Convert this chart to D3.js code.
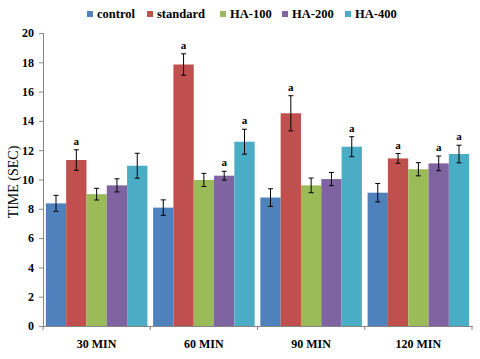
<!DOCTYPE html>
<html><head><meta charset="utf-8">
<script src="https://cdn.jsdelivr.net/npm/d3@7"></script>
<style>body{margin:0;background:#fff}svg{display:block}</style>
</head><body><svg id="c" width="480" height="359"></svg>
<script>
const categories = ["30 MIN","60 MIN","90 MIN","120 MIN"];
const seriesNames = ["control","standard","HA-100","HA-200","HA-400"];
const colors = ["#4F81BD","#C0504D","#9BBB59","#8064A2","#4BACC6"];
const control  = [8.37, 8.08, 8.77, 9.1];
const standard = [11.33, 17.85, 14.52, 11.44];
const ha100    = [9.0, 9.97, 9.6, 10.7];
const ha200    = [9.6, 10.26, 10.03, 11.1];
const ha400    = [10.94, 12.58, 12.24, 11.74];
const errControl  = [0.55, 0.53, 0.6, 0.63];
const errStandard = [0.7, 0.73, 1.2, 0.33];
const errHa100    = [0.4, 0.45, 0.5, 0.45];
const errHa200    = [0.45, 0.3, 0.45, 0.5];
const errHa400    = [0.85, 0.85, 0.68, 0.6];
// significance marks ("a") per series per category
const sigStandard = [1,1,1,1];
const sigHa200    = [0,1,0,1];
const sigHa400    = [0,1,1,1];
const sigControl = [0,0,0,0], sigHa100 = [0,0,0,0];
const yTicks = [0,2,4,6,8,10,12,14,16,18,20];

const values = [control, standard, ha100, ha200, ha400];
const errs = [errControl, errStandard, errHa100, errHa200, errHa400];
const sigs = [sigControl, sigStandard, sigHa100, sigHa200, sigHa400];

const svg = d3.select("#c");
const m = {l:43, r:8, t:33, b:33};
const W = 480, H = 359;
const x0 = d3.scaleBand().domain(categories).range([m.l, W - m.r]).paddingInner(0).paddingOuter(0);
const x1 = d3.scaleBand().domain(seriesNames).range([0, x0.bandwidth()]).paddingOuter(0.14).paddingInner(0);
const y = d3.scaleLinear().domain([0,20]).range([326, 33]);
const serif = "'Liberation Serif','Times New Roman',serif";

// axes
const yAx = svg.append("g").attr("transform",`translate(${m.l},0)`)
  .call(d3.axisLeft(y).tickValues(yTicks).tickSize(4).tickPadding(5).tickFormat(d3.format("d")));
yAx.select(".domain").attr("stroke","#868686");
yAx.selectAll(".tick line").attr("stroke","#868686");
yAx.selectAll("text").attr("font-family",serif).attr("font-weight","bold").attr("font-size","12px").attr("fill","#000");

const xAx = svg.append("g").attr("transform",`translate(0,${y(0)})`)
  .call(d3.axisBottom(x0).tickSize(0).tickPadding(13));
xAx.select(".domain").attr("stroke","#868686");
xAx.selectAll("text").attr("font-family",serif).attr("font-weight","bold").attr("font-size","12px").attr("fill","#000");
// boundary ticks
const bounds = categories.map(c => x0(c)).concat([x0(categories[categories.length-1]) + x0.bandwidth()]);
svg.append("g").selectAll("line").data(bounds).join("line")
  .attr("x1",d=>d).attr("x2",d=>d).attr("y1",y(0)).attr("y2",y(0)+4).attr("stroke","#868686");

// bars
const g = svg.append("g");
seriesNames.forEach((s, si) => {
  const gg = g.append("g");
  categories.forEach((c, ci) => {
    const v = values[si][ci], e = errs[si][ci];
    const bx = x0(c) + x1(s), bw = x1.bandwidth();
    gg.append("rect").attr("x",bx).attr("y",y(v)).attr("width",bw).attr("height",y(0)-y(v)).attr("fill",colors[si]);
    const cx = bx + bw/2;
    gg.append("line").attr("x1",cx).attr("x2",cx).attr("y1",y(v+e)).attr("y2",y(v-e)).attr("stroke","#000").attr("stroke-width",1);
    [v+e, v-e].forEach(t => gg.append("line").attr("x1",cx-2.5).attr("x2",cx+2.5).attr("y1",y(t)).attr("y2",y(t)).attr("stroke","#000").attr("stroke-width",1));
    if (sigs[si][ci]) {
      gg.append("text").attr("x",cx).attr("y",y(v+e)-5).attr("text-anchor","middle")
        .attr("font-family",serif).attr("font-weight","bold").attr("font-size","11px").text("a");
    }
  });
});

// y title
svg.append("text").attr("transform",`translate(18,182) rotate(-90)`).attr("text-anchor","middle")
  .attr("font-family",serif).attr("font-size","14px").text("TIME (SEC)");

// legend
const legX = [87, 147, 220, 282, 345];
const leg = svg.append("g");
seriesNames.forEach((s,i) => {
  leg.append("rect").attr("x",legX[i]).attr("y",11).attr("width",6).attr("height",6).attr("fill",colors[i]);
  leg.append("text").attr("x",legX[i]+10).attr("y",18).attr("font-family",serif).attr("font-weight","bold").attr("font-size","12.5px").text(s);
});
</script></body></html>
